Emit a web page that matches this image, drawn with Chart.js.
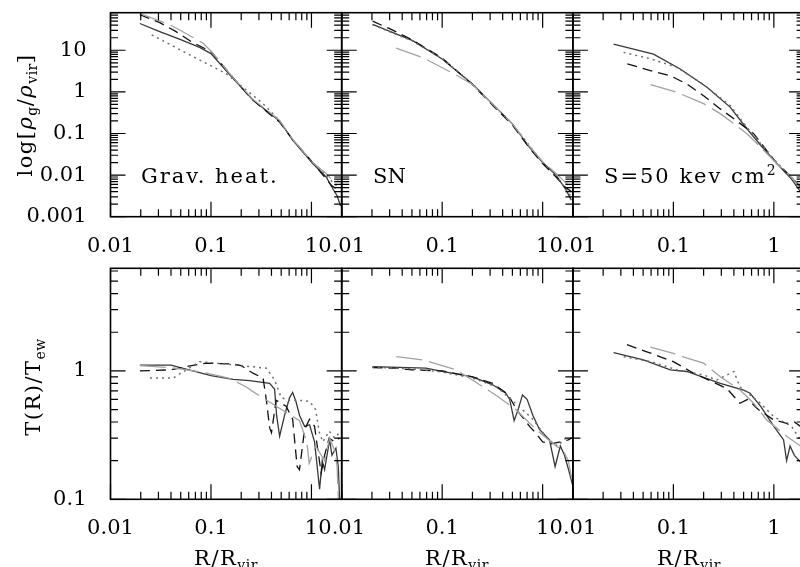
<!DOCTYPE html>
<html>
<head>
<meta charset="utf-8">
<script src="https://cdn.jsdelivr.net/npm/chart.js@4"></script>
<style>
  body { margin: 0; width: 800px; height: 567px; overflow: hidden; background: #fff; position: relative; font-family: "DejaVu Serif", serif; }
  canvas { position: absolute; left: 0; top: 0; }
  .lab { position: absolute; font-size: 21px; line-height: 21px; white-space: nowrap; color: #000; letter-spacing: 1.5px; }
  .rot { transform: translate(-50%, -50%) rotate(-90deg); }
  .ctr { transform: translateX(-50%); }
  .sb { font-size: 14px; position: relative; top: 5px; letter-spacing: 0.5px; }
  .sp { font-size: 14px; position: relative; top: -8px; }
</style>
</head>
<body>
<canvas id="p1" width="820" height="567"></canvas>
<canvas id="p2" width="820" height="567"></canvas>
<canvas id="p3" width="820" height="567"></canvas>
<canvas id="p4" width="820" height="567"></canvas>
<canvas id="p5" width="820" height="567"></canvas>
<canvas id="p6" width="820" height="567"></canvas>

<div class="lab rot" style="left:26px;top:115px">log[<i>ρ</i><span class="sb">g</span>/<i>ρ</i><span class="sb">vir</span>]</div>
<div class="lab rot" style="left:34px;top:387px">T(R)/T<span class="sb">ew</span></div>
<div class="lab" style="left:141px;top:166px;letter-spacing:2px">Grav. heat.</div>
<div class="lab" style="left:373px;top:166px;letter-spacing:0">SN</div>
<div class="lab" style="left:604px;top:166px;letter-spacing:2px">S=50 kev cm<span class="sp">2</span></div>
<div class="lab ctr" style="left:226px;top:548px">R/R<span class="sb">vir</span></div>
<div class="lab ctr" style="left:457px;top:548px">R/R<span class="sb">vir</span></div>
<div class="lab ctr" style="left:689px;top:548px">R/R<span class="sb">vir</span></div>

<script>
// tick labels
const xTicks = [0.01, 0.1, 1];
const xTickLabels = ['0.01', '0.1', '1'];
const rhoTicks = [0.001, 0.01, 0.1, 1, 10];
const rhoTickLabels = ['0.001', '0.01', '0.1', '1', '10'];
const tempTicks = [0.1, 1];
const tempTickLabels = ['0.1', '1'];

// gas density profiles, [R/Rvir, rho_g/rho_vir]
const gravRhoSolid = [[0.0196,44],[0.03,29],[0.05,18],[0.077,11.7],[0.1,8.3],[0.166,2.1],[0.262,0.64],[0.48,0.2],[0.653,0.068],[1.03,0.019],[1.4,0.009],[1.65,0.0045],[1.8,0.0032],[1.95,0.0018]];
const gravRhoDash = [[0.0196,72],[0.031,46],[0.045,28],[0.064,16],[0.1,9.3],[0.166,2.2],[0.25,0.7],[0.35,0.35],[0.48,0.19],[0.653,0.07],[1.03,0.02],[1.3,0.01],[1.6,0.0055],[1.95,0.004]];
const gravRhoGray = [[0.0196,76],[0.04,40],[0.083,15],[0.1,9.6],[0.166,2.2],[0.262,0.66],[0.48,0.21],[0.653,0.072],[1.03,0.02],[1.4,0.011],[1.6,0.0075],[1.95,0.007]];
const gravRhoDot = [[0.0257,23.5],[0.06,8],[0.143,2.7],[0.2,1.4],[0.33,0.52],[0.45,0.24],[0.653,0.07],[1.03,0.02],[1.4,0.01],[1.7,0.006],[1.95,0.005]];

const snRhoSolid = [[0.0203,42],[0.0509,17],[0.1,6.2],[0.2,1.55],[0.32,0.5],[0.5,0.17],[0.736,0.047],[1.0,0.02],[1.36,0.01],[1.7,0.0045],[1.93,0.0025]];
const snRhoDash = [[0.0203,50],[0.03,33],[0.05,18],[0.1,6.5],[0.2,1.5],[0.32,0.47],[0.5,0.16],[0.736,0.045],[1.0,0.019],[1.36,0.009],[1.7,0.005],[1.93,0.004]];
const snRhoGray = [[0.0348,11.3],[0.064,6.7],[0.132,2.7],[0.2,1.5],[0.32,0.5],[0.5,0.17],[0.736,0.05],[1.0,0.021],[1.36,0.011],[1.7,0.0065],[1.93,0.005]];
const snRhoDot = [[0.0203,41],[0.05,17],[0.1,6.3],[0.2,1.55],[0.5,0.17],[1.0,0.02],[1.36,0.01],[1.93,0.003]];

const s50RhoSolid = [[0.0254,14.1],[0.0634,8.1],[0.117,3.55],[0.216,1.29],[0.367,0.43],[0.54,0.13],[0.75,0.05],[1.07,0.019],[1.5,0.008],[2,0.003]];
const s50RhoDot = [[0.0319,8.9],[0.06,6.2],[0.108,3.9],[0.2,1.5],[0.367,0.47],[0.54,0.14],[1.07,0.02],[1.5,0.009],[2,0.004]];
const s50RhoDash = [[0.0348,4.7],[0.059,3.24],[0.093,2.45],[0.136,1.55],[0.2,0.81],[0.293,0.39],[0.4,0.226],[0.63,0.099],[1.07,0.019],[1.5,0.009],[2,0.004]];
const s50RhoGray = [[0.0594,1.5],[0.108,0.98],[0.2,0.52],[0.293,0.3],[0.54,0.099],[0.75,0.045],[1.07,0.019],[1.5,0.009],[2,0.0035]];

// temperature profiles, [R/Rvir, T/Tew]
const gravTSolid = [[0.0196,1.11],[0.04,1.11],[0.1,0.92],[0.166,0.86],[0.243,0.84],[0.384,0.8],[0.43,0.72],[0.45,0.45],[0.482,0.31],[0.54,0.45],[0.606,0.62],[0.65,0.68],[0.7,0.58],[0.762,0.45],[0.855,0.37],[0.957,0.38],[1.074,0.28],[1.205,0.12],[1.28,0.2],[1.352,0.17],[1.515,0.29],[1.6,0.22],[1.75,0.25],[1.85,0.18],[1.906,0.1]];
const gravTDash = [[0.0196,1.0],[0.04,1.02],[0.06,1.09],[0.09,1.15],[0.166,1.13],[0.2,1.1],[0.262,0.96],[0.33,0.88],[0.356,0.59],[0.384,0.36],[0.4,0.33],[0.445,0.59],[0.5,0.56],[0.56,0.53],[0.65,0.42],[0.72,0.18],[0.76,0.17],[0.855,0.35],[0.957,0.42],[1.074,0.37],[1.15,0.25],[1.25,0.16],[1.35,0.22],[1.5,0.3],[1.7,0.28],[1.9,0.3]];
const gravTDot = [[0.0247,0.88],[0.042,0.88],[0.057,1.02],[0.077,1.18],[0.113,1.15],[0.2,1.1],[0.356,1.05],[0.43,0.85],[0.5,0.62],[0.6,0.59],[0.76,0.59],[0.957,0.58],[1.1,0.5],[1.2,0.33],[1.3,0.28],[1.5,0.34],[1.7,0.3],[1.9,0.33]];
const gravTGray = [[0.0196,1.1],[0.04,1.06],[0.08,0.98],[0.15,0.88],[0.225,0.75],[0.262,0.69],[0.43,0.54],[0.76,0.41],[0.9,0.28],[0.95,0.19],[1.1,0.26],[1.35,0.2],[1.515,0.3],[1.7,0.24],[1.8,0.18],[1.85,0.1]];

const snTSolid = [[0.0203,1.08],[0.069,1.05],[0.1,0.99],[0.2,0.9],[0.318,0.78],[0.43,0.67],[0.47,0.6],[0.52,0.41],[0.57,0.5],[0.63,0.65],[0.7,0.6],[0.8,0.45],[0.93,0.35],[1.17,0.29],[1.33,0.18],[1.5,0.26],[1.65,0.22],[1.85,0.16],[2,0.126]];
const snTDash = [[0.0203,1.06],[0.035,1.05],[0.05,1.02],[0.1,1.0],[0.16,0.93],[0.2,0.9],[0.318,0.8],[0.45,0.66],[0.55,0.5],[0.74,0.37],[0.85,0.33],[1.0,0.28],[1.2,0.27],[1.5,0.28],[1.8,0.29],[1.95,0.3]];
const snTGray = [[0.035,1.29],[0.064,1.22],[0.137,1.02],[0.2,0.85],[0.34,0.65],[0.54,0.5],[0.86,0.35],[1.36,0.26],[1.6,0.24],[1.8,0.2],[2,0.13]];
const snTDot = [[0.02,1.07],[0.05,1.04],[0.1,0.98],[0.2,0.88],[0.35,0.75],[0.55,0.55],[0.8,0.42],[1.1,0.3],[1.4,0.26],[1.7,0.3],[1.95,0.3]];

const s50TSolid = [[0.0254,1.39],[0.0504,1.22],[0.093,1.02],[0.136,0.99],[0.293,0.8],[0.5,0.71],[0.58,0.67],[0.74,0.53],[1.0,0.37],[1.25,0.29],[1.34,0.2],[1.45,0.26],[1.6,0.22],[1.84,0.196],[2,0.17]];
const s50TDash = [[0.0345,1.6],[0.0545,1.41],[0.08,1.26],[0.1,1.18],[0.159,0.96],[0.34,0.73],[0.46,0.56],[0.55,0.6],[0.7,0.5],[1.0,0.415],[1.34,0.39],[1.6,0.4],[1.84,0.37],[2,0.36]];
const s50TGray = [[0.059,1.53],[0.1,1.37],[0.137,1.26],[0.2,1.15],[0.293,0.9],[0.46,0.71],[0.63,0.56],[0.85,0.415],[1.34,0.31],[1.84,0.26],[2,0.25]];
const s50TDot = [[0.032,1.29],[0.06,1.18],[0.108,1.02],[0.2,0.93],[0.27,0.85],[0.4,0.99],[0.46,0.75],[0.7,0.58],[1.0,0.44],[1.5,0.37],[1.84,0.29],[2,0.3]];

const tickFont = { family: 'DejaVu Serif', size: 21 };

// line styles: solid dark, short-dashed black, dotted grey, long-dashed light grey
const styles = {
  solid: { color: '#383838', width: 1.3, dash: [] },
  dash: { color: '#111', width: 1.3, dash: [10, 6] },
  dot: { color: '#6e6e6e', width: 1.5, dash: [2, 4] },
  gray: { color: '#a2a2a2', width: 1.3, dash: [26, 7] }
};

// frame plus inward log ticks on all four sides
const frameTicks = {
  id: 'frameTicks',
  afterDraw(chart) {
    const { ctx, chartArea: a, scales: { x, y } } = chart;
    ctx.save();
    ctx.strokeStyle = '#000';
    ctx.lineWidth = 1.2;
    const logTicks = (s) => {
      const out = [];
      for (let d = Math.pow(10, Math.floor(Math.log10(s.min) + 1e-9)); d < s.max; d *= 10) {
        for (let k = 1; k < 10; k++) {
          const v = k * d;
          if (v >= s.min * 0.999 && v <= s.max * 1.001) out.push({ v, major: k === 1 });
        }
      }
      return out;
    };
    ctx.beginPath();
    logTicks(x).forEach(t => {
      const px = x.getPixelForValue(t.v);
      const len = t.major ? 15 : 7.5;
      ctx.moveTo(px, a.bottom); ctx.lineTo(px, a.bottom - len);
      ctx.moveTo(px, a.top); ctx.lineTo(px, a.top + len);
    });
    logTicks(y).forEach(t => {
      const py = y.getPixelForValue(t.v);
      const len = t.major ? 15 : 7.5;
      ctx.moveTo(a.left, py); ctx.lineTo(a.left + len, py);
      ctx.moveTo(a.right, py); ctx.lineTo(a.right - len, py);
    });
    ctx.stroke();
    ctx.lineWidth = 1.6;
    ctx.strokeRect(a.left, a.top, a.right - a.left, a.bottom - a.top);
    ctx.restore();
  }
};

// fixed axis box sizes so the plot area lands exactly where the panel is
const X_AXIS_H = 40;
const Y_AXIS_W = 100;

function fixBox(s, size, horizontal) {
  if (horizontal) s.height = size; else s.width = size;
  s.paddingLeft = s.paddingRight = s.paddingTop = s.paddingBottom = 0;
}

const DATA_KEY = 'data';

function makePanel(id, box, yMin, yMax, yTicks, yLabels, showY, series) {
  const ctx = document.getElementById(id).getContext('2d');
  const yW = showY ? Y_AXIS_W : 0;
  const datasets = series.map(([pts, st]) => ({
    [DATA_KEY]: pts,
    borderColor: styles[st].color,
    borderWidth: styles[st].width,
    borderDash: styles[st].dash,
    pointRadius: 0,
    fill: false,
    tension: 0
  }));
  return new Chart(ctx, {
    type: 'line',
    [DATA_KEY]: { datasets },
    options: {
      responsive: false,
      animation: false,
      devicePixelRatio: 1,
      layout: { padding: { left: box[0] - yW, top: box[1], right: 820 - box[2], bottom: 567 - box[3] - X_AXIS_H } },
      plugins: { legend: { display: false }, tooltip: { enabled: false } },
      scales: {
        x: {
          type: 'logarithmic', min: 0.01, max: 2,
          afterFit: s => fixBox(s, X_AXIS_H, true),
          afterBuildTicks: s => { s.ticks = xTicks.map(v => ({ value: v })); },
          grid: { display: false }, border: { display: false },
          ticks: { callback: (v, i) => xTickLabels[i], font: tickFont, color: '#000', padding: 9, maxRotation: 0, autoSkip: false }
        },
        y: {
          type: 'logarithmic', min: yMin, max: yMax,
          afterFit: s => fixBox(s, yW, false),
          afterBuildTicks: s => { s.ticks = yTicks.map(v => ({ value: v })); },
          grid: { display: false }, border: { display: false },
          ticks: { display: showY, callback: (v, i) => yLabels[i], font: tickFont, color: '#000', padding: 16, autoSkip: false }
        }
      }
    },
    plugins: [frameTicks]
  });
}

const cols = [[110.5, 341.7], [341.7, 572.9], [572.9, 804.1]];
const topRow = [12.7, 216.7];
const botRow = [268.3, 499.3];

makePanel('p1', [cols[0][0], topRow[0], cols[0][1], topRow[1]], 0.001, 80, rhoTicks, rhoTickLabels, true,
  [[gravRhoGray, 'gray'], [gravRhoDot, 'dot'], [gravRhoDash, 'dash'], [gravRhoSolid, 'solid']]);
makePanel('p2', [cols[1][0], topRow[0], cols[1][1], topRow[1]], 0.001, 80, rhoTicks, rhoTickLabels, false,
  [[snRhoGray, 'gray'], [snRhoDot, 'dot'], [snRhoDash, 'dash'], [snRhoSolid, 'solid']]);
makePanel('p3', [cols[2][0], topRow[0], cols[2][1], topRow[1]], 0.001, 80, rhoTicks, rhoTickLabels, false,
  [[s50RhoGray, 'gray'], [s50RhoDot, 'dot'], [s50RhoDash, 'dash'], [s50RhoSolid, 'solid']]);
makePanel('p4', [cols[0][0], botRow[0], cols[0][1], botRow[1]], 0.1, 6.3, tempTicks, tempTickLabels, true,
  [[gravTGray, 'gray'], [gravTDot, 'dot'], [gravTDash, 'dash'], [gravTSolid, 'solid']]);
makePanel('p5', [cols[1][0], botRow[0], cols[1][1], botRow[1]], 0.1, 6.3, tempTicks, tempTickLabels, false,
  [[snTGray, 'gray'], [snTDot, 'dot'], [snTDash, 'dash'], [snTSolid, 'solid']]);
makePanel('p6', [cols[2][0], botRow[0], cols[2][1], botRow[1]], 0.1, 6.3, tempTicks, tempTickLabels, false,
  [[s50TGray, 'gray'], [s50TDot, 'dot'], [s50TDash, 'dash'], [s50TSolid, 'solid']]);
</script>
</body>
</html>
